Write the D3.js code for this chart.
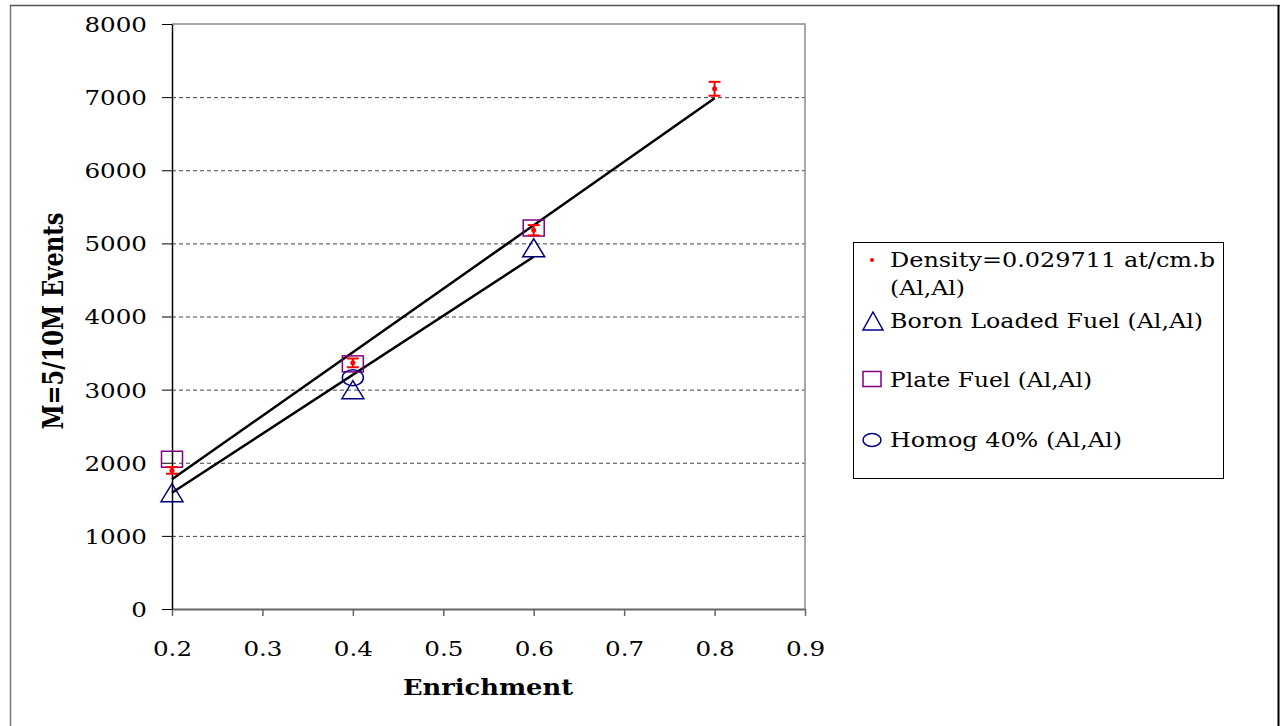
<!DOCTYPE html>
<html>
<head>
<meta charset="utf-8">
<script src="https://cdn.jsdelivr.net/npm/d3@7"></script>
<style>
  body { margin: 0; background: #fff; }
  svg { display: block; font-family: "DejaVu Serif", serif; }
</style>
</head>
<body>
<div id="chart"></div>
<script>
// values
let enrichment = [0.2, 0.4, 0.6, 0.8];
let densityEvents = [1895, 3366, 5180, 7114];
let densityErr = [45, 60, 70, 95];

let boronX = [0.2, 0.4, 0.6];
let boronEvents = [1590, 3000, 4940];

let plateX = [0.2, 0.4, 0.6];
let plateEvents = [2048, 3352, 5210];

let homogX = [0.4];
let homogEvents = [3164];

// linear trendlines (end points)
let fitDensityX = [0.2, 0.8];
let fitDensityY = [1774, 6986];
let fitBoronX = [0.2, 0.6];
let fitBoronY = [1590, 4818];

let xTicks = [0.2, 0.3, 0.4, 0.5, 0.6, 0.7, 0.8, 0.9];
let yTicks = [0, 1000, 2000, 3000, 4000, 5000, 6000, 7000, 8000];

let legendLabels = ["Density=0.029711 at/cm.b", "(Al,Al)", "Boron Loaded Fuel (Al,Al)",
                    "Plate Fuel (Al,Al)", "Homog 40% (Al,Al)"];

let width = 1280;
let height = 726;
let SX = 1.2; // the picture is stretched sideways

let svg = d3.select("#chart")
    .append("svg")
    .attr("width", width)
    .attr("height", height);

// outer frame
svg.append("line").attr("x1", 10.5).attr("x2", 10.5).attr("y1", 5).attr("y2", height)
    .attr("stroke", "#777").attr("stroke-width", 1.5);
svg.append("line").attr("x1", 10).attr("x2", width).attr("y1", 5.5).attr("y2", 5.5)
    .attr("stroke", "#555").attr("stroke-width", 1.5);
svg.append("line").attr("x1", 1278.5).attr("x2", 1278.5).attr("y1", 5).attr("y2", height)
    .attr("stroke", "#000").attr("stroke-width", 2);

let x = d3.scaleLinear().domain([0.2, 0.9]).range([172, 805]);
let y = d3.scaleLinear().domain([0, 8000]).range([609, 24]);

// gridlines
svg.append("g")
    .selectAll("line")
    .data(yTicks.filter(d => d > 0 && d < 8000))
    .join("line")
    .attr("x1", x(0.2)).attr("x2", x(0.9))
    .attr("y1", d => y(d) + 0.5).attr("y2", d => y(d) + 0.5)
    .attr("stroke", "#444")
    .attr("stroke-dasharray", "4,3");

// plot area border top / right
svg.append("path")
    .attr("d", `M${x(0.2)},${y(8000)}H${x(0.9)}V${y(0)}`)
    .attr("fill", "none")
    .attr("stroke", "#8c8c8c")
    .attr("stroke-width", 1.5);

// x axis
let xAxis = svg.append("g")
    .attr("transform", `translate(0,${y(0)})`)
    .call(d3.axisBottom(x).tickValues(xTicks).tickSize(7).tickSizeOuter(0).tickFormat(d3.format(".1f")));
xAxis.select(".domain").attr("stroke", "#666").attr("stroke-width", 2);
xAxis.selectAll(".tick line").attr("stroke", "#666").attr("stroke-width", 1.5);
xAxis.selectAll("text")
    .attr("y", 47).attr("dy", null)
    .attr("font-size", 20.5)
    .attr("font-family", "DejaVu Serif")
    .attr("fill", "#000")
    .attr("transform", `scale(${SX},1)`);

// y axis
let yAxis = svg.append("g")
    .attr("transform", `translate(${x(0.2)},0)`)
    .call(d3.axisLeft(y).tickValues(yTicks).tickSize(10).tickSizeOuter(0).tickFormat(d3.format("d")));
yAxis.select(".domain").attr("stroke", "#000").attr("stroke-width", 1.5);
yAxis.selectAll(".tick line").attr("stroke", "#000");
yAxis.selectAll("text")
    .attr("x", -25 / SX)
    .attr("dy", "0.36em")
    .attr("font-size", 20.5)
    .attr("font-family", "DejaVu Serif")
    .attr("fill", "#000")
    .attr("transform", `scale(${SX},1)`);

// axis titles
svg.append("text")
    .attr("transform", `translate(488,695) scale(${SX},1)`)
    .attr("text-anchor", "middle")
    .attr("font-weight", "bold")
    .attr("font-size", 23)
    .attr("textLength", 170 / SX)
    .attr("lengthAdjust", "spacingAndGlyphs")
    .text("Enrichment");

svg.append("text")
    .attr("transform", `translate(63,321) scale(${SX},1) rotate(-90)`)
    .attr("text-anchor", "middle")
    .attr("font-weight", "bold")
    .attr("font-size", 23)
    .attr("textLength", 217)
    .attr("lengthAdjust", "spacingAndGlyphs")
    .text("M=5/10M Events");

// trendlines
let line = d3.line().x(d => x(d[0])).y(d => y(d[1]));
svg.append("path")
    .datum(d3.zip(fitDensityX, fitDensityY))
    .attr("d", line)
    .attr("fill", "none").attr("stroke", "#000").attr("stroke-width", 2.5);
svg.append("path")
    .datum(d3.zip(fitBoronX, fitBoronY))
    .attr("d", line)
    .attr("fill", "none").attr("stroke", "#000").attr("stroke-width", 2.5);

// marker shapes
function triangle(g, w, h, color) {
    g.append("path")
        .attr("d", `M0,${-h / 2}L${w / 2},${h / 2}L${-w / 2},${h / 2}Z`)
        .attr("fill", "none").attr("stroke", color).attr("stroke-width", 1.5);
}
function square(g, w, h, color) {
    g.append("rect")
        .attr("x", -w / 2).attr("y", -h / 2).attr("width", w).attr("height", h)
        .attr("fill", "none").attr("stroke", color).attr("stroke-width", 1.5);
}
function ellipse(g, rx, ry, color) {
    g.append("ellipse")
        .attr("rx", rx).attr("ry", ry)
        .attr("fill", "none").attr("stroke", color).attr("stroke-width", 1.5);
}

// plate fuel squares
svg.append("g").selectAll("g")
    .data(d3.zip(plateX, plateEvents))
    .join("g")
    .attr("transform", d => `translate(${x(d[0])},${y(d[1])})`)
    .each(function() { square(d3.select(this), 21, 16, "#800080"); });

// homog circle
svg.append("g").selectAll("g")
    .data(d3.zip(homogX, homogEvents))
    .join("g")
    .attr("transform", d => `translate(${x(d[0])},${y(d[1])})`)
    .each(function() { ellipse(d3.select(this), 10.5, 8, "#000080"); });

// boron triangles
svg.append("g").selectAll("g")
    .data(d3.zip(boronX, boronEvents))
    .join("g")
    .attr("transform", d => `translate(${x(d[0])},${y(d[1])})`)
    .each(function() { triangle(d3.select(this), 22, 18, "#000080"); });

// density points with error bars
let dens = svg.append("g").selectAll("g")
    .data(d3.zip(enrichment, densityEvents, densityErr))
    .join("g");
dens.append("line")
    .attr("x1", d => x(d[0])).attr("x2", d => x(d[0]))
    .attr("y1", d => y(d[1] - d[2])).attr("y2", d => y(d[1] + d[2]))
    .attr("stroke", "red").attr("stroke-width", 2);
dens.append("line")
    .attr("x1", d => x(d[0]) - 6).attr("x2", d => x(d[0]) + 6)
    .attr("y1", d => y(d[1] + d[2])).attr("y2", d => y(d[1] + d[2]))
    .attr("stroke", "red").attr("stroke-width", 2);
dens.append("line")
    .attr("x1", d => x(d[0]) - 6).attr("x2", d => x(d[0]) + 6)
    .attr("y1", d => y(d[1] - d[2])).attr("y2", d => y(d[1] - d[2]))
    .attr("stroke", "red").attr("stroke-width", 2);
dens.append("circle")
    .attr("cx", d => x(d[0])).attr("cy", d => y(d[1]))
    .attr("r", 2.5).attr("fill", "red");

// legend
let legend = svg.append("g");
legend.append("rect")
    .attr("x", 853.5).attr("y", 242.5).attr("width", 370).attr("height", 236)
    .attr("fill", "#fff").attr("stroke", "#000");

legend.append("circle").attr("cx", 872).attr("cy", 260).attr("r", 2).attr("fill", "red");
triangle(legend.append("g").attr("transform", "translate(873,321)"), 20, 18, "#000080");
square(legend.append("g").attr("transform", "translate(872,379)"), 18, 15, "#800080");
ellipse(legend.append("g").attr("transform", "translate(872,440)"), 9, 6.5, "#000080");

let legendText = [
    {t: legendLabels[0], y: 267, w: 325},
    {t: legendLabels[1], y: 295, w: 75},
    {t: legendLabels[2], y: 328, w: 313},
    {t: legendLabels[3], y: 387, w: 202},
    {t: legendLabels[4], y: 447, w: 232}
];
legend.selectAll("text")
    .data(legendText)
    .join("text")
    .attr("transform", d => `translate(890,${d.y}) scale(${SX},1)`)
    .attr("font-size", 21)
    .attr("textLength", d => d.w / SX)
    .attr("lengthAdjust", "spacingAndGlyphs")
    .text(d => d.t);
</script>
</body>
</html>
